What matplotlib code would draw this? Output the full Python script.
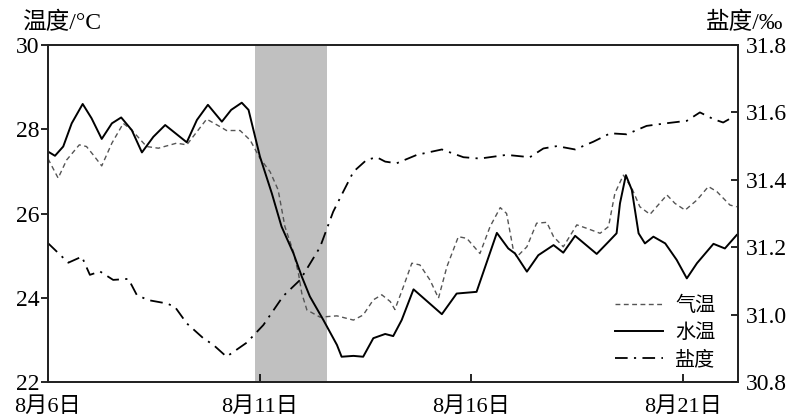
import matplotlib
matplotlib.use('Agg')
import matplotlib.pyplot as plt

plt.rcParams['font.family'] = ['Liberation Serif', 'Noto Sans CJK SC']
plt.rcParams['axes.unicode_minus'] = False

# days since 8月6日
water_day = [0, 0.165, 0.36, 0.56, 0.82, 1.03, 1.27, 1.51, 1.73, 1.98, 2.22, 2.49, 2.77,
             3.28, 3.52, 3.78, 4.11, 4.33, 4.58, 4.74,
             5.01, 5.29, 5.52, 5.80, 6.0, 6.19, 6.51, 6.83, 6.94, 7.22, 7.45, 7.69,
             7.97, 8.16, 8.36, 8.64, 9.31, 9.66, 10.13, 10.61, 10.88, 11.04, 11.32,
             11.59, 11.95, 12.18, 12.46, 12.97, 13.25, 13.44, 13.52, 13.66, 13.80,
             13.96, 14.11, 14.31, 14.59, 14.86, 15.10, 15.34, 15.73, 16.0, 16.28]
water_temp = [27.47, 27.37, 27.59, 28.14, 28.6, 28.26, 27.77, 28.14, 28.28, 27.98, 27.45, 27.82, 28.1,
              27.69, 28.22, 28.58, 28.18, 28.46, 28.63, 28.46,
              27.35, 26.48, 25.69, 25.06, 24.5, 24.03, 23.47, 22.88, 22.6, 22.62, 22.6, 23.04,
              23.14, 23.09, 23.47, 24.2, 23.61, 24.1, 24.14, 25.54, 25.17, 25.05, 24.62,
              25.01, 25.25, 25.07, 25.47, 25.04, 25.33, 25.53, 26.24, 26.91, 26.56,
              25.53, 25.29, 25.45, 25.29, 24.9, 24.46, 24.82, 25.28, 25.17, 25.49]

air_day = [0, 0.24, 0.44, 0.74, 0.91, 1.07, 1.27, 1.51, 1.78, 1.98, 2.33, 2.61, 3.04, 3.28,
           3.75, 4.07, 4.22, 4.54, 4.78, 5.01, 5.25, 5.44, 5.60, 5.80, 5.92, 6.0, 6.12, 6.43,
           6.83, 7.22, 7.45, 7.69, 7.89, 8.09, 8.20, 8.40, 8.60, 8.79, 9.03, 9.23, 9.43, 9.70,
           9.90, 10.21, 10.45, 10.69, 10.84, 11.0, 11.08, 11.32, 11.55, 11.79, 11.95,
           12.18, 12.50, 12.73, 13.05, 13.25, 13.40, 13.60, 13.80, 13.99, 14.23, 14.63,
           14.82, 15.06, 15.34, 15.61, 15.81, 16.12, 16.28]
air_temp = [27.3, 26.84, 27.27, 27.63, 27.59, 27.39, 27.13, 27.67, 28.14, 27.98, 27.59, 27.55, 27.67, 27.63,
            28.24, 28.06, 27.97, 27.97, 27.74, 27.31, 26.99, 26.56, 25.69, 25.09, 24.58, 24.1, 23.71, 23.54,
            23.57, 23.47, 23.59, 23.95, 24.07, 23.91, 23.72, 24.26, 24.82, 24.78, 24.42, 23.99, 24.74, 25.45,
            25.41, 25.05, 25.69, 26.14, 26.0, 25.13, 24.97, 25.21, 25.77, 25.79, 25.45,
            25.21, 25.73, 25.65, 25.53, 25.69, 26.48, 26.91, 26.6, 26.16, 25.98, 26.44,
            26.24, 26.08, 26.32, 26.64, 26.52, 26.2, 26.16]

sal_day = [0, 0.48, 0.80, 0.99, 1.23, 1.54, 1.90, 2.10, 2.37, 2.81, 3.0, 3.28, 3.67, 3.91,
           4.22, 4.70, 5.09, 5.56, 5.96, 6.43, 6.74, 6.98, 7.22, 7.53, 7.77, 7.97, 8.24,
           8.72, 9.31, 9.82, 10.21, 10.84, 11.39, 11.71, 12.03, 12.46, 12.89, 13.29, 13.68,
           14.15, 14.63, 15.10, 15.41, 15.73, 15.96, 16.20]
salinity = [31.212, 31.154, 31.172, 31.118, 31.128, 31.103, 31.106, 31.058, 31.043, 31.033, 31.023,
            30.974, 30.93, 30.91, 30.875, 30.917, 30.969, 31.055, 31.103, 31.2, 31.305, 31.365,
            31.424, 31.459, 31.467, 31.454, 31.449, 31.474, 31.49, 31.467, 31.463, 31.474, 31.467,
            31.493, 31.5, 31.49, 31.513, 31.538, 31.535, 31.56, 31.568, 31.575, 31.6, 31.58,
            31.57, 31.587]

typhoon_span = [4.89, 6.6]
x_ticks = [0, 5, 10, 15]
x_labels = ['8月6日', '8月11日', '8月16日', '8月21日']
t_ticks = [22, 24, 26, 28, 30]
s_ticks = [30.8, 31.0, 31.2, 31.4, 31.6, 31.8]

fig = plt.figure(figsize=(8.04, 4.2), dpi=100)
ax = fig.add_axes([48 / 804, 1 - 382 / 420, 690 / 804, 337 / 420])
ax2 = ax.twinx()

ax.axvspan(typhoon_span[0], typhoon_span[1], color='#c0c0c0', lw=0, zorder=0)

l_air, = ax.plot(air_day, air_temp, color='#555555', lw=1.0, ls=(0, (3.5, 2.5)), label='气温')
l_water, = ax.plot(water_day, water_temp, color='black', lw=1.4, label='水温',
                   solid_joinstyle='round')
l_sal, = ax2.plot(sal_day, salinity, color='black', lw=1.3, ls=(0, (7, 3.5, 1.2, 3.5)), label='盐度')

ax.set_xlim(0, 16.31)
ax.set_ylim(22, 30)
ax2.set_ylim(30.8, 31.8)

ax.set_xticks(x_ticks)
ax.set_xticklabels(x_labels)
ax.set_yticks(t_ticks)
ax.set_yticklabels([str(t) for t in t_ticks])
ax2.set_yticks(s_ticks)
ax2.set_yticklabels(['%.1f' % s for s in s_ticks])

ax.tick_params(axis='x', direction='in', length=6, width=1.2, labelsize=16, pad=11)
ax.tick_params(axis='y', direction='out', length=5, width=1.2, labelsize=17, pad=1)
ax2.tick_params(axis='y', direction='in', length=5, width=1.2, labelsize=17, pad=6)

for a in (ax, ax2):
    for sp in a.spines.values():
        sp.set_linewidth(1.3)
        sp.set_color('#222222')

fig.text(22 / 804, 1 - 23 / 420, '温度/°C', fontsize=17, va='center', ha='left')
fig.text(783 / 804, 1 - 23 / 420, '盐度/‰', fontsize=17, va='center', ha='right')

leg = ax.legend(handles=[l_air, l_water, l_sal], loc='lower right', frameon=False,
                fontsize=14.5, handlelength=2.4, handletextpad=0.6, labelspacing=0.4,
                borderaxespad=0.2, bbox_to_anchor=(0.985, 0.0))

fig.savefig('out.png', dpi=100)
